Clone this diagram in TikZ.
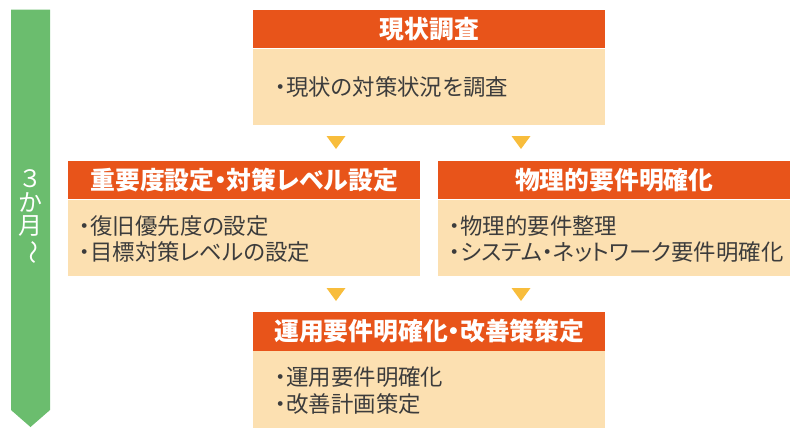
\documentclass[tikz,border=0pt]{standalone}
\usepackage{fontspec}
\setmainfont[RawFeature=+palt]{Noto Sans CJK JP}
\newfontfamily\plainjp{Noto Sans CJK JP}
\definecolor{hdr}{HTML}{E8541A}
\definecolor{bdy}{HTML}{FCE0B1}
\definecolor{grn}{HTML}{6BBD6E}
\definecolor{trif}{HTML}{F8BD3C}
\definecolor{txt}{HTML}{3C3C3C}
\begin{document}
\begin{tikzpicture}[x=1pt,y=-1pt,
  hdrbox/.style={fill=hdr, draw=none, minimum width=352pt, minimum height=38.5pt, inner sep=0pt,
    anchor=north west, text=white, font=\fontsize{24.8}{28}\selectfont\bfseries},
  bodybox/.style={fill=bdy, draw=none, minimum width=352pt, minimum height=76.5pt, inner sep=0pt, anchor=north west},
  bodytext/.style={anchor=west, inner sep=0pt, align=left, text=txt, font=\fontsize{22.4}{26.5}\selectfont},
  trimark/.style={fill=trif},
  timebar/.style={fill=grn},
  timetext/.style={text=white, align=center, inner sep=0pt, font=\plainjp\fontsize{24}{23.5}\selectfont}]
\useasboundingbox (0,0) rectangle (800,437);

% time bar
\fill[timebar] (11,9.5) -- (50,9.5) -- (50,410) -- (30.5,427) -- (11,410) -- cycle;
\node[timetext] (tm) at (30.5,217) {３\\か\\月\\\rotatebox[origin=c]{-90}{～}};

% top box
\node[hdrbox] (h1) at (253,9.5) {現状調査};
\node[bodybox] (b1) at (h1.south west) {};
\node[bodytext] (t1) at ([xshift=22pt]b1.west) {・現状の対策状況を調査};

% middle left
\node[hdrbox] (h2) at (68,160.5) {重要度設定・対策レベル設定};
\node[bodybox] (b2) at (h2.south west) {};
\node[bodytext] (t2) at ([xshift=11pt,yshift=-1pt]b2.west) {・復旧優先度の設定\\・目標対策レベルの設定};

% middle right
\node[hdrbox] (h3) at (438,160.5) {物理的要件明確化};
\node[bodybox] (b3) at (h3.south west) {};
\node[bodytext] (t3) at ([xshift=11pt,yshift=-1pt]b3.west) {・物理的要件整理\\・システム・ネットワーク要件明確化};

% bottom box
\node[hdrbox] (h4) at (253,312) {運用要件明確化・改善策策定};
\node[bodybox] (b4) at (h4.south west) {};
\node[bodytext] (t4) at ([xshift=22pt,yshift=-1pt]b4.west) {・運用要件明確化\\・改善計画策定};

% triangles
\coordinate (a1) at (336,136);
\coordinate (a2) at (521,136);
\coordinate (a3) at (336,288);
\coordinate (a4) at (521,288);
\foreach \c in {a1,a2,a3,a4}
  \fill[trimark] (\c) ++(-9.5,0) -- ++(19,0) -- ++(-9.5,13) -- cycle;
\end{tikzpicture}
\end{document}
